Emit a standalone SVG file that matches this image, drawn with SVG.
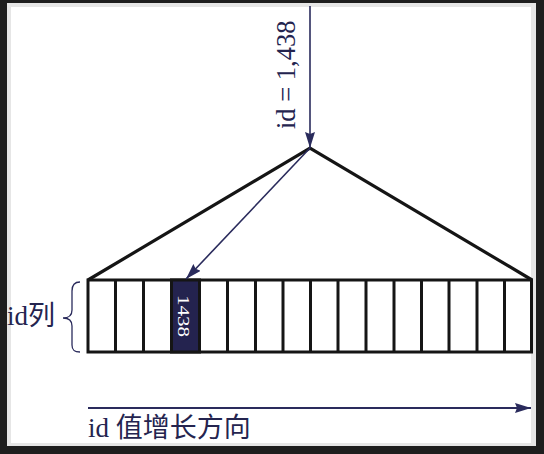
<svg xmlns="http://www.w3.org/2000/svg" width="544" height="454" viewBox="0 0 544 454">
<style>
.frame-dark{fill:#1e1e1e}
.frame-light{fill:#e6e6e6}
.paper{fill:#ffffff}
.thick{stroke:#151515;stroke-width:3.2;fill:none;stroke-linejoin:miter}
.cell{fill:#ffffff;stroke:#151515;stroke-width:3}
.hit{fill:#24234f;stroke:#151515;stroke-width:3}
.conn{stroke:#2a2b5c;fill:none}
.lbl{font-family:"Liberation Serif","Noto Sans CJK SC",serif;fill:#24244f}
.num{font-family:"Liberation Serif",serif;fill:#ffffff}
.brace{stroke:#2a2b5c;stroke-width:1.3;fill:none}
</style>
<defs>
<marker id="arrow" viewBox="0 0 16 10" refX="16" refY="5" markerWidth="16" markerHeight="10" markerUnits="userSpaceOnUse" orient="auto">
<path d="M0,0 L16,5 L0,10 L2,5 z" fill="#2a2b5c"/>
</marker>
</defs>
<g id="frame">
<rect class="frame-dark" x="0" y="0" width="544" height="454"/>
<rect class="frame-light" x="7" y="3" width="529" height="443"/>
<rect class="paper" x="11" y="7" width="520" height="436"/>
</g>
<g id="index-tree">
<polyline class="thick" points="88,280 310,148 532,280"/>
</g>
<g id="id-column">
<rect class="cell" x="88" y="280" width="443.5" height="72"/>
<g stroke="#151515" stroke-width="3">
<line x1="115.5" y1="280" x2="115.5" y2="352"/>
<line x1="143.5" y1="280" x2="143.5" y2="352"/>
<line x1="227.5" y1="280" x2="227.5" y2="352"/>
<line x1="255.5" y1="280" x2="255.5" y2="352"/>
<line x1="283" y1="280" x2="283" y2="352"/>
<line x1="310.5" y1="280" x2="310.5" y2="352"/>
<line x1="338" y1="280" x2="338" y2="352"/>
<line x1="366" y1="280" x2="366" y2="352"/>
<line x1="394" y1="280" x2="394" y2="352"/>
<line x1="421.5" y1="280" x2="421.5" y2="352"/>
<line x1="449" y1="280" x2="449" y2="352"/>
<line x1="477" y1="280" x2="477" y2="352"/>
<line x1="504.5" y1="280" x2="504.5" y2="352"/>
</g>
</g>
<g id="cell-1438">
<rect class="hit" x="171.5" y="280" width="28" height="72"/>
<text class="num" font-size="17" textLength="42" lengthAdjust="spacingAndGlyphs" transform="translate(177.5,295) rotate(90)">1438</text>
</g>
<g id="label-id-column">
<path class="brace" d="M80,282 C74,282 72,285 72,291 L72,310 C72,315 69,318 63,318 C69,318 72,321 72,326 L72,345 C72,350 74,352 80,352"/>
<text class="lbl" x="7" y="325" font-size="27">id列</text>
</g>
<g id="label-query">
<text class="lbl" font-size="26.5" transform="translate(295,129) rotate(-90)">id = 1,438</text>
</g>
<g id="label-direction">
<text class="lbl" x="88" y="437" font-size="27">id 值增长方向</text>
</g>
<g id="connectors">
<line class="conn" stroke-width="1.6" x1="310" y1="6" x2="310" y2="148" marker-end="url(#arrow)"/>
<line class="conn" stroke-width="1.6" x1="310" y1="148" x2="186" y2="279" marker-end="url(#arrow)"/>
<line class="conn" stroke-width="2.2" x1="88" y1="408" x2="531" y2="408" marker-end="url(#arrow)"/>
</g>
</svg>
